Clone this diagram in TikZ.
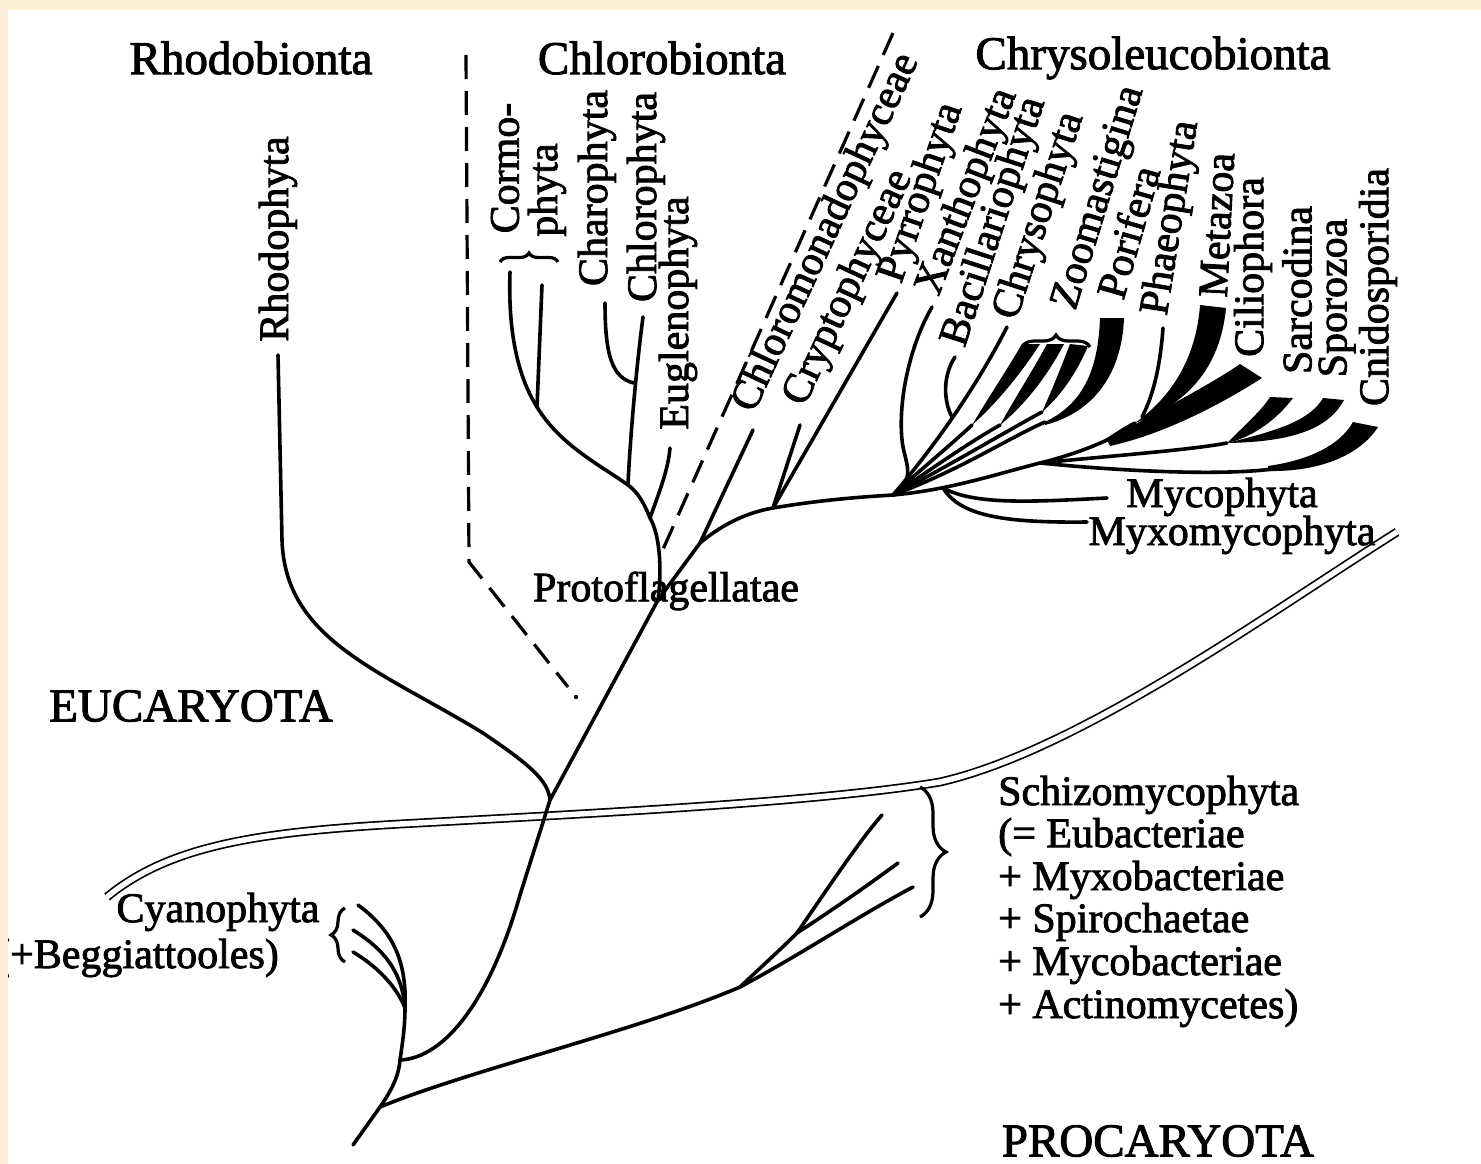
\documentclass[tikz,border=0pt]{standalone}
\usepackage{fontspec}
\setmainfont{Liberation Serif}[FakeBold=2]
\usetikzlibrary{decorations.pathreplacing}
\definecolor{cream}{RGB}{252,239,214}
\begin{document}
\begin{tikzpicture}[x=1pt,y=-1pt,
 br/.style={line width=3.6pt, line cap=round, line join=round},
 dsh/.style={line width=3.2pt, dash pattern=on 24pt off 12pt},
 dbl/.style={double, double distance=5.5pt, line width=1.7pt},
 wdg/.style={fill=black},
 lab/.style={font=\fontsize{42}{46}\selectfont, inner sep=0pt},
 head/.style={font=\fontsize{47}{52}\selectfont, inner sep=0pt},
 brc/.style={decorate, line width=3.2pt, decoration={brace, amplitude=#1}},
]
\useasboundingbox (0,0) rectangle (1481,1164);
\fill[cream] (0,0) rectangle (1481,1164);
\fill[white] (8,10) rectangle (1481,1164);

% coordinates
\coordinate (root) at (353,1145);
\coordinate (pj) at (380,1107);
\coordinate (ej) at (400,1060);
\coordinate (cy) at (405,1008);
\coordinate (pk1) at (740,987);
\coordinate (pk2) at (797,933);
\coordinate (pe1) at (882,815);
\coordinate (pe2) at (898,863);
\coordinate (pe3) at (913,887);
\coordinate (rj) at (550,800);
\coordinate (pf) at (658,600);
\coordinate (cj) at (628,485);
\coordinate (cormj) at (537,407);
\coordinate (euj) at (650,518);
\coordinate (chj) at (634,383);
\coordinate (xj) at (700,543);
\coordinate (crj) at (773,508);
\coordinate (hub) at (893,495);
\coordinate (aj) at (1040,463);
\coordinate (cij) at (1107,440);
\coordinate (myj) at (943,488);
\coordinate (sj) at (1227,443);
\coordinate (metj) at (1135,423);
\coordinate (porj) at (1045,422);
\coordinate (w1) at (972,425);
\coordinate (w2) at (1000,425);
\coordinate (w3) at (1042,412);

% boundary double line
\draw[dbl] (107,897) .. controls (170,845) and (260,832) .. (400,824)
  .. controls (600,813) and (820,802) .. (940,782)
  .. controls (1080,750) and (1270,612) .. (1397,532);

% dashed separators
\draw[dsh] (466,55) -- (469,562) -- (568,687);
\fill (576,697) circle (2.2pt);
\draw[dsh] (893,33) -- (660,556);

% trunk and procaryotes
\draw[br] (root) -- (pj) .. controls (392,1090) and (399,1075) .. (ej) .. controls (403,1040) and (405,1025) .. (cy);
\draw[br] (cy) .. controls (407,960) and (392,930) .. (358,905);
\draw[br] (cy) .. controls (402,970) and (382,948) .. (353,930);
\draw[br] (cy) .. controls (396,985) and (375,965) .. (353,952);
\draw[br] (pj) .. controls (470,1070) and (640,1030) .. (pk1);
\draw[br] (pk1) .. controls (760,968) and (780,950) .. (pk2) .. controls (830,885) and (860,840) .. (pe1);
\draw[br] (pk2) .. controls (840,905) and (875,880) .. (pe2);
\draw[br] (pk1) .. controls (800,955) and (860,915) .. (pe3);

% eucaryote trunk
\draw[br] (ej) .. controls (445,1058) and (490,1000) .. (520,895) -- (rj) -- (pf);
\draw[br] (rj) .. controls (548,780) and (530,765) .. (483,733) .. controls (380,670) and (285,640) .. (282,540) -- (278,355);

% Chlorobionta
\draw[br] (pf) .. controls (662,570) and (660,535) .. (euj) .. controls (645,505) and (638,492) .. (cj);
\draw[br] (euj) .. controls (660,490) and (668,470) .. (670,448);
\draw[br] (cj) .. controls (630,440) and (636,370) .. (643,317);
\draw[br] (605,303) .. controls (605,355) and (612,378) .. (chj);
\draw[br] (cj) .. controls (600,465) and (560,445) .. (cormj);
\draw[br] (cormj) .. controls (517,375) and (508,330) .. (510,272);
\draw[br] (cormj) -- (542,285);

% toward Chrysoleucobionta
\draw[br] (pf) -- (xj) -- (753,430);
\draw[br] (xj) .. controls (725,522) and (750,512) .. (crj) .. controls (820,500) and (860,497) .. (hub);
\draw[br] (crj) -- (800,425);
\draw[br] (crj) -- (897,293);

% fan from hub
\draw[br] (hub) .. controls (950,490) and (1000,473) .. (aj) .. controls (1065,457) and (1090,448) .. (cij);
\draw[br] (myj) .. controls (975,505) and (1030,502) .. (1107,498);
\draw[br] (myj) .. controls (960,515) and (1000,523) .. (1087,522);
\draw[br] (aj) .. controls (1120,455) and (1190,450) .. (sj);
\draw[br] (aj) .. controls (1130,472) and (1230,476) .. (1280,468);
\draw[br] (hub) .. controls (918,478) and (904,462) .. (902,440) .. controls (898,400) and (910,345) .. (932,307);
\draw[br] (hub) .. controls (940,440) and (980,380) .. (1007,327);
\draw[br] (955,357) .. controls (943,375) and (943,400) .. (952,417);
\draw[br] (hub) .. controls (920,470) and (945,450) .. (w1);
\draw[br] (hub) .. controls (930,470) and (965,445) .. (w2);
\draw[br] (hub) .. controls (950,465) and (1000,435) .. (w3);
\draw[br] (hub) .. controls (960,470) and (1005,440) .. (porj);
\draw[br] (cij) .. controls (1115,435) and (1125,428) .. (metj);
\draw[br] (1163,328) .. controls (1160,370) and (1152,398) .. (1142,417);

% wedges
\fill[wdg] (w1) .. controls (990,395) and (1008,368) .. (1022,344) -- (1040,344) .. controls (1020,375) and (995,405) .. (w1) -- cycle;
\fill[wdg] (w2) .. controls (1015,398) and (1033,370) .. (1047,344) -- (1064,344) .. controls (1048,375) and (1025,405) .. (w2) -- cycle;
\fill[wdg] (w3) .. controls (1052,390) and (1062,365) .. (1070,344) -- (1088,346) .. controls (1078,370) and (1062,395) .. (w3) -- cycle;
\fill[wdg] (porj) .. controls (1080,405) and (1098,375) .. (1100,318) -- (1124,318) .. controls (1122,372) and (1095,412) .. (1045,425) -- cycle;
\fill[wdg] (metj) .. controls (1170,398) and (1196,360) .. (1200,305) -- (1226,308) .. controls (1220,370) and (1185,405) .. (metj) -- cycle;
\fill[wdg] (cij) .. controls (1160,410) and (1210,385) .. (1240,364) -- (1262,378) .. controls (1215,408) and (1160,435) .. (1110,446) -- cycle;
\fill[wdg] (sj) .. controls (1245,425) and (1262,410) .. (1270,397) -- (1293,398) .. controls (1275,422) and (1250,438) .. (sj) -- cycle;
\fill[wdg] (sj) .. controls (1280,430) and (1310,420) .. (1323,398) -- (1344,400) .. controls (1327,432) and (1285,442) .. (sj) -- cycle;
\fill[wdg] (1268,466) .. controls (1310,460) and (1340,445) .. (1353,422) -- (1378,427) .. controls (1360,455) and (1320,472) .. (1268,471) -- cycle;

% braces
\draw[brc=26] (920,787) -- (920,917);
\draw[brc=14] (345,962) -- (345,908);
\draw[brc=9] (500,262) -- (558,262);
\draw[brc=12] (1022,347) -- (1090,347);

% headers
\node[head] (hRho) at (251,58) {Rhodobionta};
\node[head] (hChl) at (662,58) {Chlorobionta};
\node[head] (hChr) at (1153,58) {Chrysoleucobionta};
\node[head] (hEu) at (191,706) {EUCARYOTA};
\node[head] (hPro) at (1158,1141) {PROCARYOTA};

% labels
\node[lab, rotate=90] (lRho) at (278,239) {Rhodophyta};
\node[lab, rotate=90] (lCo1) at (505,168) {Cormo-};
\node[lab, rotate=90] (lCo2) at (547,190) {phyta};
\node[lab, rotate=90] (lCha) at (597,188) {Charophyta};
\node[lab, rotate=90] (lChl) at (646,197) {Chlorophyta};
\node[lab, rotate=90] (lEug) at (678,313) {Euglenophyta};
\node[lab, rotate=65] (lCmo) at (827,233) {Chloromonadophyceae};
\node[lab, rotate=65] (lCry) at (849,288) {Cryptophyceae};
\node[lab, rotate=71] (lPyr) at (922,193) {Pyrrophyta};
\node[lab, rotate=69] (lXan) at (968,192) {Xanthophyta};
\node[lab, rotate=72] (lBac) at (995,222) {Bacillariophyta};
\node[lab, rotate=72] (lChr) at (1040,216) {Chrysophyta};
\node[lab, rotate=73] (lZoo) at (1100,198) {Zoomastigina};
\node[lab, rotate=74] (lPor) at (1128,232) {Porifera};
\node[lab, rotate=81] (lPha) at (1172,218) {Phaeophyta};
\node[lab, rotate=87] (lMet) at (1217,225) {Metazoa};
\node[lab, rotate=90] (lCil) at (1253,267) {Ciliophora};
\node[lab, rotate=90] (lSar) at (1297,290) {Sarcodina};
\node[lab, rotate=90] (lSpo) at (1337,298) {Sporozoa};
\node[lab, rotate=90] (lCni) at (1378,287) {Cnidosporidia};
\node[lab] (lPf) at (666,591) {Protoflagellatae};
\node[lab] (lMyc) at (1222,497) {Mycophyta};
\node[lab] (lMyx) at (1232,535) {Myxomycophyta};
\node[lab] (lCya) at (218,912) {Cyanophyta};
\node[lab, anchor=east] (lBeg) at (279,958) {(+Beggiattooles)};
\node[lab, anchor=west] (s1) at (998,795) {Schizomycophyta};
\node[lab, anchor=west] (s2) at (998,837) {(= Eubacteriae};
\node[lab, anchor=west] (s3) at (998,880) {+ Myxobacteriae};
\node[lab, anchor=west] (s4) at (998,922) {+ Spirochaetae};
\node[lab, anchor=west] (s5) at (998,965) {+ Mycobacteriae};
\node[lab, anchor=west] (s6) at (998,1008) {+ Actinomycetes)};

\fill[cream] (0,0) rectangle (8,1164);
\fill[cream] (0,0) rectangle (1481,10);
\end{tikzpicture}
\end{document}
